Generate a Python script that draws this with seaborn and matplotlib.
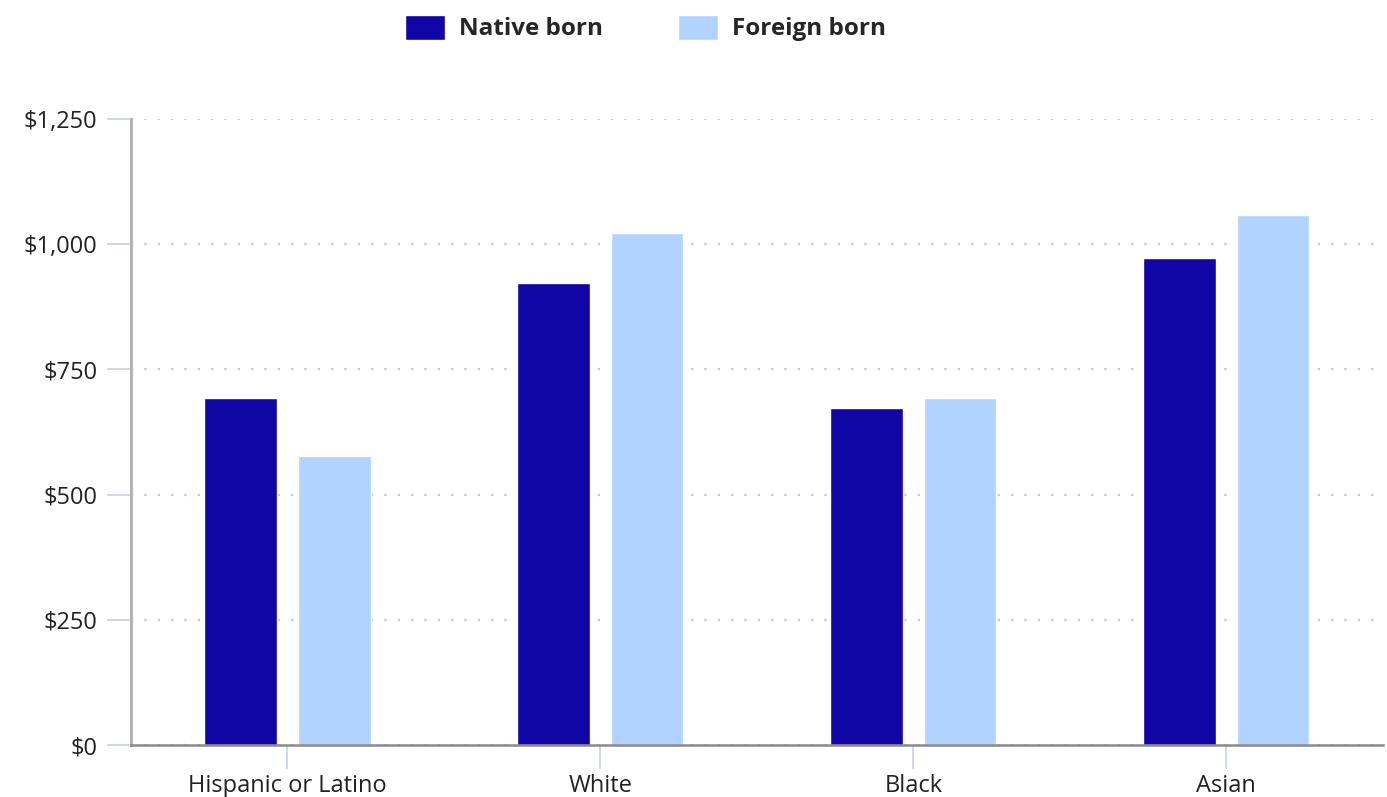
import matplotlib
matplotlib.use("Agg")
import matplotlib.pyplot as plt
import matplotlib.ticker as mticker
import seaborn as sns
import pandas as pd

# median weekly earnings by ethnicity and nativity
groups = ["Hispanic or Latino", "White", "Black", "Asian"]
native_born = [693, 922, 673, 972]
foreign_born = [577, 1022, 693, 1058]
series_names = ["Native born", "Foreign born"]
y_ticks = [0, 250, 500, 750, 1000, 1250]

df = pd.DataFrame({
    "group": groups * 2,
    "nativity": [series_names[0]] * len(groups) + [series_names[1]] * len(groups),
    "earnings": native_born + foreign_born,
})

sns.set_theme(style="white")
plt.rcParams["font.family"] = ["Open Sans", "DejaVu Sans"]

fig = plt.figure(figsize=(13.87, 7.97), dpi=100)
ax = fig.add_axes([0.0944, 0.0652, 0.9026, 0.7855])

palette = {"Native born": "#1006a6", "Foreign born": "#b0d3ff"}
sns.barplot(data=df, x="group", y="earnings", hue="nativity", palette=palette,
            width=0.6, gap=0.23, saturation=1, ax=ax, order=groups,
            hue_order=series_names)

ax.set_xlim(-0.5, 3.5)
ax.set_ylim(0, 1250)
ax.set_yticks(y_ticks)
ax.yaxis.set_major_formatter(mticker.FuncFormatter(lambda v, p: f"${v:,.0f}"))
ax.set_xlabel("")
ax.set_ylabel("")

ax.grid(axis="y", color="#c8c8c8", linestyle=(0, (1, 5)), linewidth=1.6)
ax.set_axisbelow(True)

for s in ["top", "right"]:
    ax.spines[s].set_visible(False)
ax.spines["left"].set_color("#b4b4b4")
ax.spines["left"].set_linewidth(2.2)
ax.spines["bottom"].set_color("#8a8a8a")
ax.spines["bottom"].set_linewidth(1.8)

ax.tick_params(axis="both", which="major", length=17, width=1.2, color="#c3d3e6",
               labelsize=17, labelcolor="#222222", left=True, bottom=True)
ax.tick_params(axis="y", pad=7)
ax.tick_params(axis="x", pad=4)

sns.move_legend(ax, "upper center", bbox_to_anchor=(0.4654, 1.009), bbox_transform=fig.transFigure,
                ncol=2, frameon=False, title=None, handlelength=1.65, handleheight=1.2,
                columnspacing=3.1, handletextpad=0.55, prop={"weight": "bold", "size": 17.5})

fig.savefig("out.png", dpi=100)
